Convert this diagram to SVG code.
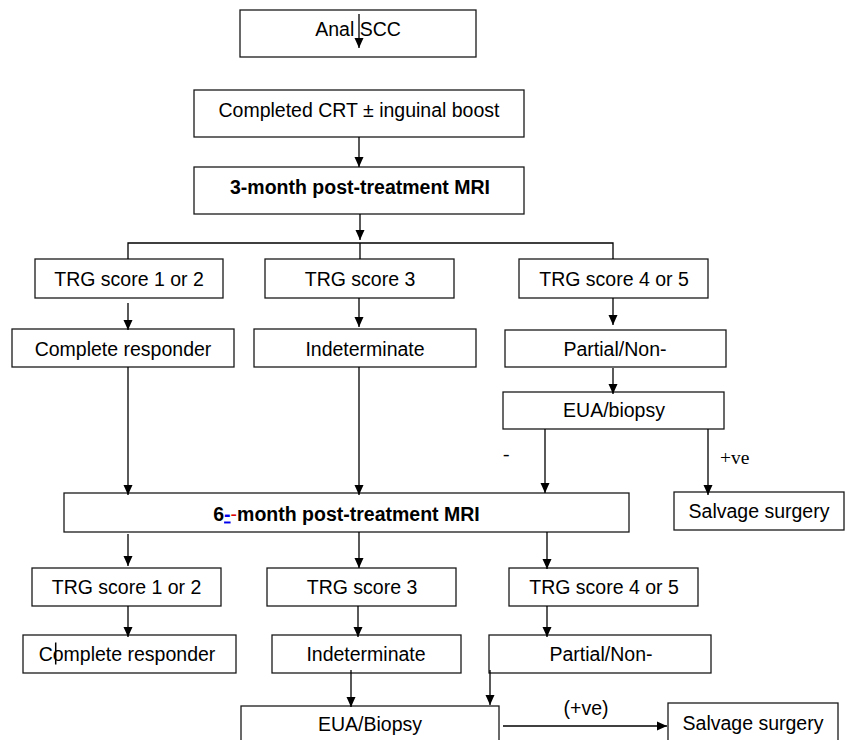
<svg xmlns="http://www.w3.org/2000/svg" width="847" height="740" viewBox="0 0 847 740">
<style>
.b{fill:#fff;stroke:#1a1a1a;stroke-width:1.3}
.t{font-family:"Liberation Sans",Arial,sans-serif;font-size:19.5px;fill:#000;text-anchor:middle}
.bd{font-weight:bold}
.s{font-family:"Liberation Serif","Times New Roman",serif;font-size:19.5px;fill:#000}
.c{fill:none;stroke:#000;stroke-width:1.3}
.a{marker-end:url(#ah)}
</style>
<defs>
<marker id="ah" markerUnits="userSpaceOnUse" markerWidth="10" markerHeight="10" viewBox="0 0 10 10" refX="10" refY="5" orient="auto">
<path d="M0,0.5 L10,5 L0,9.5 Z" fill="#000"/>
</marker>
</defs>
<rect width="847" height="740" fill="#fff"/>
<g id="anal-scc"><rect class="b" x="240" y="10" width="236" height="47"/><text class="t" x="358" y="36">Anal SCC</text></g>
<g id="crt"><rect class="b" x="194" y="90" width="330" height="47"/><text class="t" x="359" y="117">Completed CRT ± inguinal boost</text></g>
<g id="mri3"><rect class="b" x="194" y="167" width="330" height="47"/><text class="t bd" x="360" y="194">3-month post-treatment MRI</text></g>
<g id="trg12a"><rect class="b" x="35" y="259" width="188" height="39"/><text class="t" x="129" y="285.5">TRG score 1 or 2</text></g>
<g id="trg3a"><rect class="b" x="265" y="259" width="189" height="39"/><text class="t" x="360" y="285.5">TRG score 3</text></g>
<g id="trg45a"><rect class="b" x="519" y="259" width="189" height="39"/><text class="t" x="614" y="285.5">TRG score 4 or 5</text></g>
<g id="cra"><rect class="b" x="12" y="329" width="222" height="38"/><text class="t" x="123" y="355.5">Complete responder</text></g>
<g id="inda"><rect class="b" x="254" y="329" width="222" height="38"/><text class="t" x="365" y="355.5">Indeterminate</text></g>
<g id="pna"><rect class="b" x="505" y="330" width="221" height="37"/><text class="t" x="615" y="355.5">Partial/Non-</text></g>
<g id="euaa"><rect class="b" x="503" y="392" width="221" height="37"/><text class="t" x="614" y="416.5">EUA/biopsy</text></g>
<g id="salv1"><rect class="b" x="674" y="492" width="170" height="38"/><text class="t" x="759" y="517.5">Salvage surgery</text></g>
<g id="mri6"><rect class="b" x="64" y="493" width="565" height="39"/><text class="t bd" x="346.5" y="520.5">6<tspan fill="#0000ee" text-decoration="underline">-</tspan><tspan fill="#dd0000" font-weight="normal">-</tspan>month post-treatment MRI</text></g>
<g id="trg12b"><rect class="b" x="32" y="568" width="189" height="38"/><text class="t" x="126.5" y="594">TRG score 1 or 2</text></g>
<g id="trg3b"><rect class="b" x="267" y="568" width="189" height="38"/><text class="t" x="362" y="594">TRG score 3</text></g>
<g id="trg45b"><rect class="b" x="509" y="568" width="189" height="38"/><text class="t" x="604" y="594">TRG score 4 or 5</text></g>
<g id="crb"><rect class="b" x="23" y="635" width="213" height="38"/><text class="t" x="127" y="661">Complete responder</text><line x1="55.7" y1="642.5" x2="55.7" y2="664.5" stroke="#000" stroke-width="1.5"/></g>
<g id="indb"><rect class="b" x="272" y="635" width="189" height="38"/><text class="t" x="366" y="661">Indeterminate</text></g>
<g id="pnb"><rect class="b" x="489" y="635" width="222" height="38"/><text class="t" x="601" y="661">Partial/Non-</text></g>
<g id="euab"><rect class="b" x="241" y="706" width="258" height="40"/><text class="t" x="370" y="731">EUA/Biopsy</text></g>
<g id="salv2"><rect class="b" x="668" y="703" width="170" height="43"/><text class="t" x="753" y="729.5">Salvage surgery</text></g>
<g id="connectors">
<line class="c a" x1="359" y1="14" x2="359" y2="48"/>
<line class="c a" x1="359" y1="137" x2="359" y2="167"/>
<line class="c a" x1="360" y1="214" x2="360" y2="240"/>
<polyline class="c" points="128,259 128,243 613,243 613,259"/>
<line class="c" x1="360" y1="243" x2="360" y2="259"/>
<line class="c a" x1="128" y1="303" x2="128" y2="330"/>
<line class="c a" x1="359" y1="298" x2="359" y2="327"/>
<line class="c a" x1="613" y1="298" x2="613" y2="325"/>
<line class="c a" x1="613" y1="368" x2="613" y2="394"/>
<line class="c a" x1="128" y1="367" x2="128" y2="495"/>
<line class="c a" x1="359" y1="367" x2="359" y2="495"/>
<line class="c a" x1="545" y1="429" x2="545" y2="493"/>
<line class="c a" x1="708" y1="429" x2="708" y2="495"/>
<text class="s" x="503" y="460">-</text>
<text class="s" x="720" y="464">+ve</text>
<line class="c a" x1="128" y1="534" x2="128" y2="566"/>
<line class="c a" x1="359" y1="532" x2="359" y2="568"/>
<line class="c a" x1="547" y1="532" x2="547" y2="569"/>
<line class="c a" x1="128" y1="606" x2="128" y2="637"/>
<line class="c a" x1="358" y1="606" x2="358" y2="637"/>
<line class="c a" x1="547" y1="606" x2="547" y2="637"/>
<line class="c a" x1="351" y1="670" x2="351" y2="707"/>
<line class="c a" x1="490" y1="670" x2="490" y2="705"/>
<line class="c a" x1="503" y1="726" x2="667" y2="726"/>
<text class="t" x="586" y="715">(+ve)</text>
</g>
</svg>
